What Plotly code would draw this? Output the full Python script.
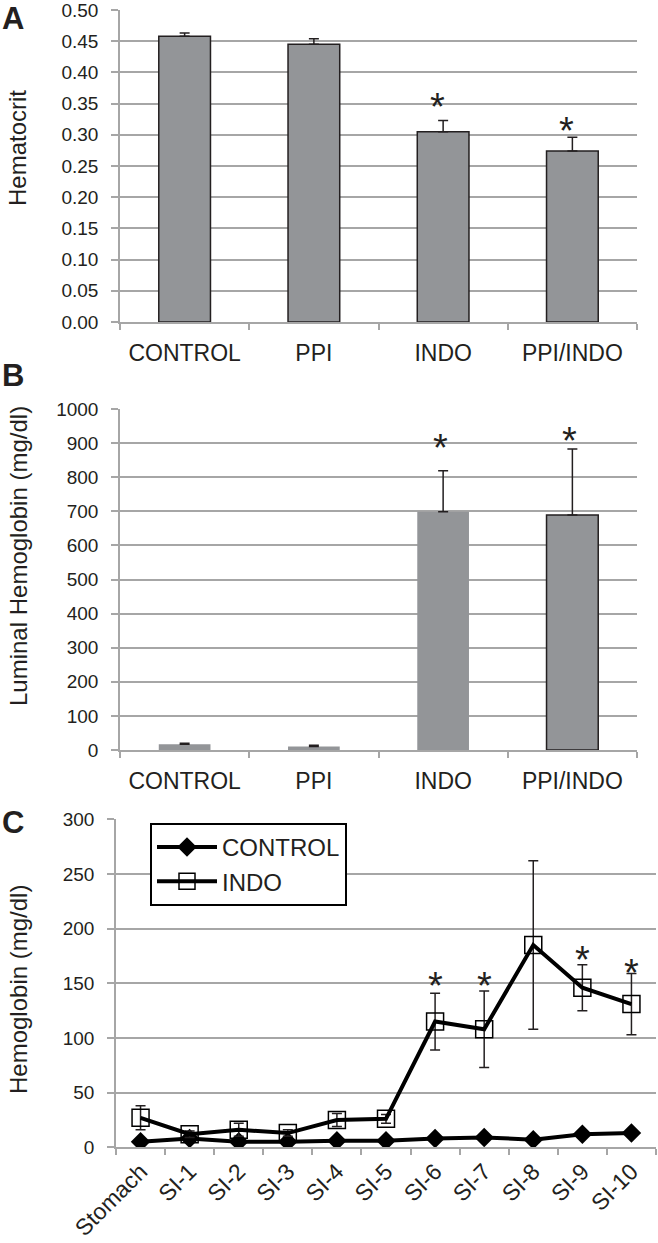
import plotly.graph_objects as go

# ---------------- data ----------------
groups = ["CONTROL", "PPI", "INDO", "PPI/INDO"]
hematocrit = [0.458, 0.445, 0.305, 0.274]
hematocrit_err = [0.005, 0.009, 0.018, 0.022]
hct_sig_groups = ["INDO", "PPI/INDO"]
hct_sig_y = [0.352, 0.314]

lum_hb = [17, 10, 699, 689]
lum_hb_err = [3, 4, 120, 194]
lum_sig_groups = ["INDO", "PPI/INDO"]
lum_sig_y = [900, 922]

segments = ["Stomach", "SI-1", "SI-2", "SI-3", "SI-4", "SI-5",
            "SI-6", "SI-7", "SI-8", "SI-9", "SI-10"]
control_hb = [5, 8, 5, 5, 6, 6, 8, 9, 7, 12, 13]
indo_hb = [27, 12, 16, 13, 25, 26, 115, 108, 185, 146, 131]
indo_err = [11, 3, 6, 3, 6, 4, 26, 35, 77, 21, 28]
seg_sig = ["SI-6", "SI-7", "SI-9", "SI-10"]
seg_sig_y = [152, 152, 176, 164]

hct_ticks = [0, 0.05, 0.10, 0.15, 0.20, 0.25, 0.30, 0.35, 0.40, 0.45, 0.50]
lum_ticks = list(range(0, 1001, 100))
seg_ticks = list(range(0, 301, 50))

# ---------------- style ----------------
W, H = 658, 1243
FONT = "Liberation Sans, Arial, sans-serif"
TXT = "#231f20"
GRID = "#a6a6a6"
BARC = "#939598"
STAR = 38
STAR_SHIFT = -5


def xd(a, b):
    return [a / W, b / W]


def yd(top, bottom):
    return [1 - bottom / H, 1 - top / H]


fig = go.Figure()

# Panel A
fig.add_trace(go.Bar(
    x=groups, y=hematocrit, width=0.4,
    marker=dict(color=BARC, line=dict(color=TXT, width=1.5)),
    error_y=dict(type="data", array=hematocrit_err, arrayminus=[0] * 4,
                 symmetric=False, color=TXT, thickness=1.5, width=5),
    xaxis="x", yaxis="y", showlegend=False))

# Panel B
fig.add_trace(go.Bar(
    x=groups, y=lum_hb, width=0.4,
    marker=dict(color=BARC, line=dict(color=TXT, width=[0, 0, 0, 1.5])),
    error_y=dict(type="data", array=lum_hb_err, arrayminus=[0] * 4,
                 symmetric=False, color=TXT, thickness=1.5, width=5),
    xaxis="x2", yaxis="y2", showlegend=False))

# Panel C
fig.add_trace(go.Scatter(
    x=segments, y=control_hb, mode="lines+markers", name="CONTROL",
    line=dict(color="black", width=4),
    marker=dict(symbol="diamond", size=15, color="black"),
    xaxis="x3", yaxis="y3"))
fig.add_trace(go.Scatter(
    x=segments, y=indo_hb, mode="lines+markers", name="INDO",
    line=dict(color="black", width=4),
    marker=dict(symbol="square-open", size=17, color="black",
                line=dict(width=1.5)),
    error_y=dict(type="data", array=indo_err, color=TXT, thickness=1.5, width=5),
    xaxis="x3", yaxis="y3"))

annotations = []
for g, yv in zip(hct_sig_groups, hct_sig_y):
    annotations.append(dict(x=g, y=yv, xref="x", yref="y", text="*", showarrow=False,
                            font=dict(size=STAR, color=TXT, family=FONT), yanchor="middle",
                            xshift=-6, yshift=STAR_SHIFT))
for g, yv in zip(lum_sig_groups, lum_sig_y):
    annotations.append(dict(x=g, y=yv, xref="x2", yref="y2", text="*", showarrow=False,
                            font=dict(size=STAR, color=TXT, family=FONT), yanchor="middle",
                            xshift=-3, yshift=STAR_SHIFT))
for g, yv in zip(seg_sig, seg_sig_y):
    annotations.append(dict(x=g, y=yv, xref="x3", yref="y3", text="*", showarrow=False,
                            font=dict(size=STAR, color=TXT, family=FONT), yanchor="middle",
                            yshift=STAR_SHIFT))

# panel letters
for letter, yc in [("A", 18), ("B", 375), ("C", 822)]:
    annotations.append(dict(x=0 / W, y=1 - yc / H, xref="paper", yref="paper",
                            text="<b>%s</b>" % letter, showarrow=False,
                            xanchor="left", yanchor="middle",
                            font=dict(size=31, color=TXT, family=FONT)))

# y-axis titles
for title, yc, fs in [("Hematocrit", 148, 24),
                      ("Luminal Hemoglobin (mg/dl)", 556, 24),
                      ("Hemoglobin (mg/dl)", 990, 24)]:
    annotations.append(dict(x=18 / W, y=1 - yc / H, xref="paper", yref="paper",
                            text=title, showarrow=False, textangle=-90,
                            xanchor="center", yanchor="middle",
                            font=dict(size=fs, color=TXT, family=FONT)))

yaxis_common = dict(showgrid=True, gridcolor=GRID, gridwidth=1.5,
                    showline=True, linecolor=GRID, linewidth=1.5,
                    ticks="outside", ticklen=7, tickcolor=GRID, tickwidth=1.5,
                    tickfont=dict(size=19, color=TXT, family=FONT),
                    ticklabeloverflow="allow", ticklabelstandoff=9,
                    zeroline=False, fixedrange=True, automargin=False)
xaxis_common = dict(showgrid=False, showline=True, linecolor=GRID, linewidth=1.5,
                    ticks="outside", ticklen=6, tickcolor=GRID, tickwidth=1.5,
                    ticklabeloverflow="allow",
                    tickson="boundaries", fixedrange=True, automargin=False)

fig.update_layout(
    width=W, height=H,
    margin=dict(l=0, r=0, t=0, b=0, autoexpand=False),
    paper_bgcolor="white", plot_bgcolor="white",
    font=dict(family=FONT, color=TXT),
    xaxis=dict(domain=xd(120, 637), anchor="y", range=[-0.5, 3.5],
               tickfont=dict(size=23, color=TXT, family=FONT),
               ticklabelstandoff=10, **xaxis_common),
    yaxis=dict(domain=yd(10, 322), anchor="x", range=[0, 0.5],
               tickvals=hct_ticks, tickformat=".2f", **yaxis_common),
    xaxis2=dict(domain=xd(120, 637), anchor="y2", range=[-0.5, 3.5],
                tickfont=dict(size=23, color=TXT, family=FONT),
                ticklabelstandoff=10, **xaxis_common),
    yaxis2=dict(domain=yd(409, 750), anchor="x2", range=[0, 1000],
                tickvals=lum_ticks, **yaxis_common),
    xaxis3=dict(domain=xd(116, 656), anchor="y3", range=[-0.5, 10.5],
                tickangle=-45,
                tickfont=dict(size=23, color=TXT, family=FONT), **xaxis_common),
    yaxis3=dict(domain=yd(819.3, 1147.3), anchor="x3", range=[0, 300],
                tickvals=seg_ticks, **yaxis_common),
    legend=dict(x=150 / W, y=1 - 823 / H, xanchor="left", yanchor="top",
                bordercolor="black", borderwidth=2, bgcolor="white",
                font=dict(size=24, color=TXT, family=FONT),
                itemwidth=60, tracegroupgap=0),
    annotations=annotations,
    bargap=0.6,
)

fig.write_html("out.html",
               config={"displayModeBar": False},
               post_script="document.body.style.margin='0px';"
                           "document.body.style.overflow='hidden';")
